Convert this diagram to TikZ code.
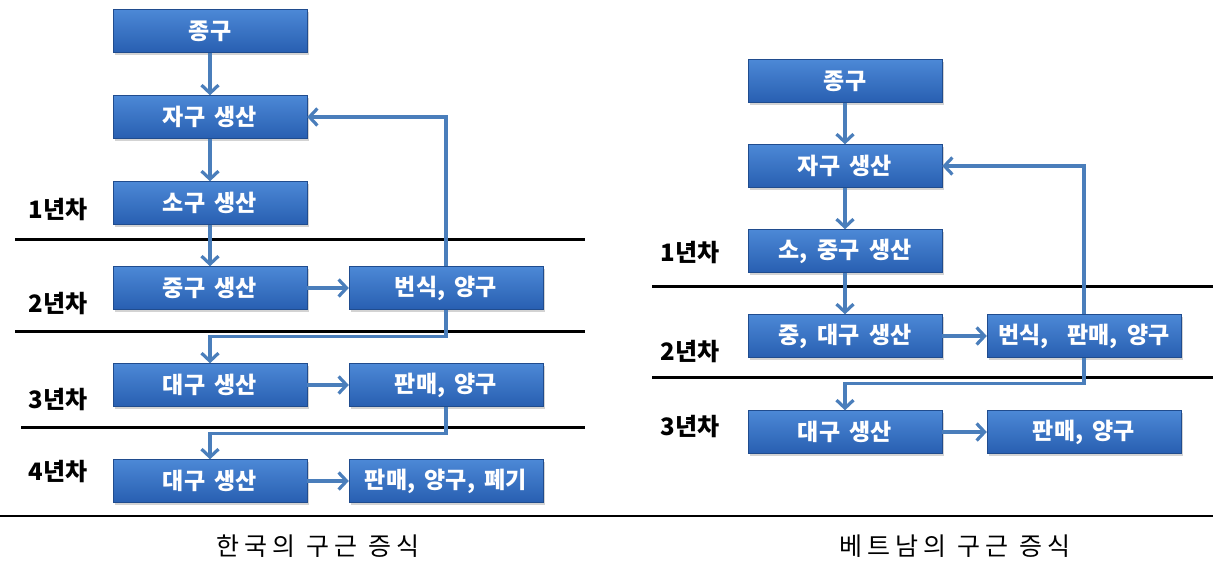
\documentclass[tikz,border=0pt]{standalone}
\usepackage{fontspec}
\setmainfont{Noto Sans CJK KR}
\newfontfamily\capfont[LetterSpace=20]{Noto Sans CJK KR}
\newfontfamily\boxfont[WordSpace=1.8]{Noto Sans CJK KR}
\usetikzlibrary{arrows.meta,shadows,calc}
\definecolor{arrowblue}{RGB}{74,126,187}
\definecolor{boxtop}{RGB}{76,136,214}
\definecolor{boxbot}{RGB}{40,95,177}
\tikzset{
  stagebox/.style={rectangle, minimum height=43pt, inner sep=0pt,
    top color=boxtop, bottom color=boxbot, draw=boxbot!80!black, line width=0.4pt,
    drop shadow={shadow xshift=2pt, shadow yshift=-2pt, opacity=0.35},
    text=white, font=\boxfont\fontsize{23}{26}\selectfont\bfseries},
  leftbox/.style={stagebox, minimum width=194pt},
  rightbox/.style={stagebox, minimum width=194pt},
  flow/.style={draw=arrowblue, line width=3.4pt, -{Straight Barb[length=8pt,width=17pt,line width=3.2pt]}},
  yearline/.style={draw=black, line width=3pt},
  yearlabel/.style={font=\fontsize{24}{27}\selectfont\bfseries, text=black},
  caption/.style={font=\capfont\fontsize{25}{28}\selectfont, text=black}
}
\begin{document}
\begin{tikzpicture}[x=1pt,y=-1pt]
\useasboundingbox (0,0) rectangle (1213,562);
% ---------- Korea ----------
\coordinate (kl1a) at (15,239); \coordinate (kl1b) at (585,239);
\coordinate (kl2a) at (15,331); \coordinate (kl2b) at (585,331);
\coordinate (kl3a) at (21,427); \coordinate (kl3b) at (585,427);
\draw[yearline] (kl1a) -- (kl1b);
\draw[yearline] (kl2a) -- (kl2b);
\draw[yearline] (kl3a) -- (kl3b);

\node[leftbox] (k0) at (210,31) {종구};
\node[leftbox] (k1) at (210,117) {자구 생산};
\node[leftbox] (k2) at (210,203) {소구 생산};
\node[leftbox] (k3) at (210,288) {중구 생산};
\node[leftbox] (k3r) at (446,288) {번식, 양구};
\node[leftbox] (k4) at (210,385) {대구 생산};
\node[leftbox] (k4r) at (446,385) {판매, 양구};
\node[leftbox] (k5) at (210,481) {대구 생산};
\node[leftbox] (k5r) at (446,481) {판매, 양구, 폐기};

\node[yearlabel] (ky1) at (58,210) {1년차};
\node[yearlabel] (ky2) at (58,304) {2년차};
\node[yearlabel] (ky3) at (58,400) {3년차};
\node[yearlabel] (ky4) at (58,472) {4년차};

\draw[flow] (k0) -- (k1);
\draw[flow] (k1) -- (k2);
\draw[flow] (k2) -- (k3);
\draw[flow] (k3) -- (k3r);
\draw[flow] (k4) -- (k4r);
\draw[flow] (k5) -- (k5r);
\draw[flow] (k3r.north) |- (k1.east);
\draw[flow] (k3r.south) -- ++(0,27) -| (k4.north);
\draw[flow] (k4r.south) -- ++(0,27) -| (k5.north);

% ---------- Vietnam ----------
\coordinate (vl1a) at (652,286); \coordinate (vl1b) at (1213,286);
\coordinate (vl2a) at (652,377); \coordinate (vl2b) at (1213,377);
\draw[yearline] (vl1a) -- (vl1b);
\draw[yearline] (vl2a) -- (vl2b);

\node[rightbox] (v0) at (845,81) {종구};
\node[rightbox] (v1) at (845,166) {자구 생산};
\node[rightbox] (v2) at (845,251) {소, 중구 생산};
\node[rightbox] (v3) at (845,336) {중, 대구 생산};
\node[rightbox] (v3r) at (1084,336) {번식,\ \ 판매, 양구};
\node[rightbox] (v4) at (845,432) {대구 생산};
\node[rightbox] (v4r) at (1084,432) {판매, 양구};

\node[yearlabel] (vy1) at (690,253) {1년차};
\node[yearlabel] (vy2) at (690,352) {2년차};
\node[yearlabel] (vy3) at (690,427) {3년차};

\draw[flow] (v0) -- (v1);
\draw[flow] (v1) -- (v2);
\draw[flow] (v2) -- (v3);
\draw[flow] (v3) -- (v3r);
\draw[flow] (v4) -- (v4r);
\draw[flow] (v3r.north) |- (v1.east);
\draw[flow] (v3r.south) -- ++(0,26) -| (v4.north);

% ---------- bottom ----------
\coordinate (bl) at (0,516); \coordinate (br) at (1213,516);
\draw[black, line width=1.5pt] (bl) -- (br);
\node[caption] (kcap) at (318,546) {한국의 구근 증식};
\node[caption] (vcap) at (955,546) {베트남의 구근 증식};
\end{tikzpicture}
\end{document}
